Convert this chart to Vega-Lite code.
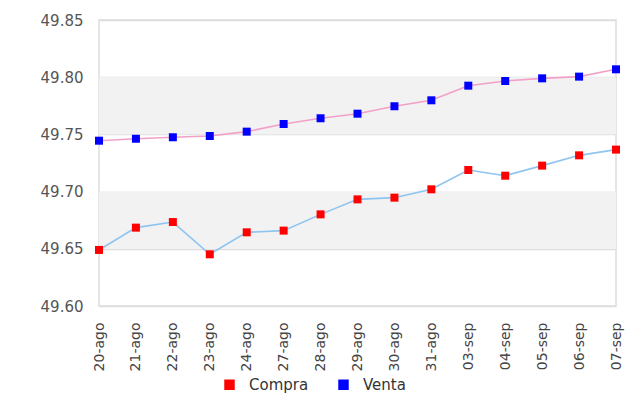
{
  "$schema": "https://vega.github.io/schema/vega-lite/v6.json",
  "width": 517,
  "height": 286,
  "autosize": {"type": "none"},
  "padding": {"left": 99, "top": 20, "right": 12, "bottom": 99},
  "config": {
    "font": "DejaVu Sans",
    "view": {"stroke": "#dddddd", "strokeWidth": 1.5},
    "axis": {"labelFont": "DejaVu Sans"},
    "legend": {"labelFont": "DejaVu Sans"}
  },
  "datasets": {
    "bands": [
      {"y0": 49.65, "y1": 49.70},
      {"y0": 49.75, "y1": 49.80}
    ],
    "series": [
      {"fecha": "20-ago", "serie": "Compra", "valor": 49.649},
      {"fecha": "21-ago", "serie": "Compra", "valor": 49.6685},
      {"fecha": "22-ago", "serie": "Compra", "valor": 49.6734},
      {"fecha": "23-ago", "serie": "Compra", "valor": 49.6452},
      {"fecha": "24-ago", "serie": "Compra", "valor": 49.6644},
      {"fecha": "27-ago", "serie": "Compra", "valor": 49.6659},
      {"fecha": "28-ago", "serie": "Compra", "valor": 49.6801},
      {"fecha": "29-ago", "serie": "Compra", "valor": 49.6932},
      {"fecha": "30-ago", "serie": "Compra", "valor": 49.6947},
      {"fecha": "31-ago", "serie": "Compra", "valor": 49.702},
      {"fecha": "03-sep", "serie": "Compra", "valor": 49.7189},
      {"fecha": "04-sep", "serie": "Compra", "valor": 49.7139},
      {"fecha": "05-sep", "serie": "Compra", "valor": 49.7227},
      {"fecha": "06-sep", "serie": "Compra", "valor": 49.7317},
      {"fecha": "07-sep", "serie": "Compra", "valor": 49.7367},
      {"fecha": "20-ago", "serie": "Venta", "valor": 49.7445},
      {"fecha": "21-ago", "serie": "Venta", "valor": 49.7462},
      {"fecha": "22-ago", "serie": "Venta", "valor": 49.7475},
      {"fecha": "23-ago", "serie": "Venta", "valor": 49.7486},
      {"fecha": "24-ago", "serie": "Venta", "valor": 49.7524},
      {"fecha": "27-ago", "serie": "Venta", "valor": 49.7591},
      {"fecha": "28-ago", "serie": "Venta", "valor": 49.7641},
      {"fecha": "29-ago", "serie": "Venta", "valor": 49.7681},
      {"fecha": "30-ago", "serie": "Venta", "valor": 49.7746},
      {"fecha": "31-ago", "serie": "Venta", "valor": 49.7798},
      {"fecha": "03-sep", "serie": "Venta", "valor": 49.7926},
      {"fecha": "04-sep", "serie": "Venta", "valor": 49.7967},
      {"fecha": "05-sep", "serie": "Venta", "valor": 49.799},
      {"fecha": "06-sep", "serie": "Venta", "valor": 49.8005},
      {"fecha": "07-sep", "serie": "Venta", "valor": 49.8069}
    ]
  },
  "layer": [
    {
      "data": {"name": "bands"},
      "mark": {"type": "rect", "fill": "#f2f2f2"},
      "encoding": {
        "y": {"field": "y0", "type": "quantitative", "scale": {"domain": [49.6, 49.85], "nice": false, "zero": false},
          "axis": {"title": null, "values": [49.6, 49.65, 49.7, 49.75, 49.8, 49.85], "format": ".2f", "grid": true, "gridColor": "#dddddd", "gridWidth": 1.5, "domain": false, "ticks": false, "labelFontSize": 15, "labelColor": "#555555", "labelPadding": 16}},
        "y2": {"field": "y1"}
      }
    },
    {
      "data": {"name": "series"},
      "mark": {"type": "line", "strokeWidth": 1.6},
      "encoding": {
        "x": {"field": "fecha", "type": "ordinal", "sort": null, "scale": {"type": "point", "padding": 0},
          "axis": {"title": null, "labelAngle": -90, "domain": false, "ticks": false, "grid": false, "labelFontSize": 14, "labelColor": "#444444", "labelPadding": 16}},
        "y": {"field": "valor", "type": "quantitative"},
        "stroke": {"field": "serie", "type": "nominal", "scale": {"range": ["#8ec4f0", "#f2a0c8"]}, "legend": null}
      }
    },
    {
      "data": {"name": "series"},
      "mark": {"type": "square", "filled": true, "size": 64, "opacity": 1},
      "encoding": {
        "x": {"field": "fecha", "type": "ordinal", "sort": null},
        "y": {"field": "valor", "type": "quantitative"},
        "color": {"field": "serie", "type": "nominal", "scale": {"domain": ["Compra", "Venta"], "range": ["#ff0000", "#0000ff"]},
          "legend": {"title": null, "orient": "none", "legendX": 123, "legendY": 357, "direction": "horizontal", "symbolType": "square", "symbolSize": 110, "labelFontSize": 15, "labelColor": "#333333", "labelOffset": 12, "columnPadding": 27}}
      }
    }
  ]
}
